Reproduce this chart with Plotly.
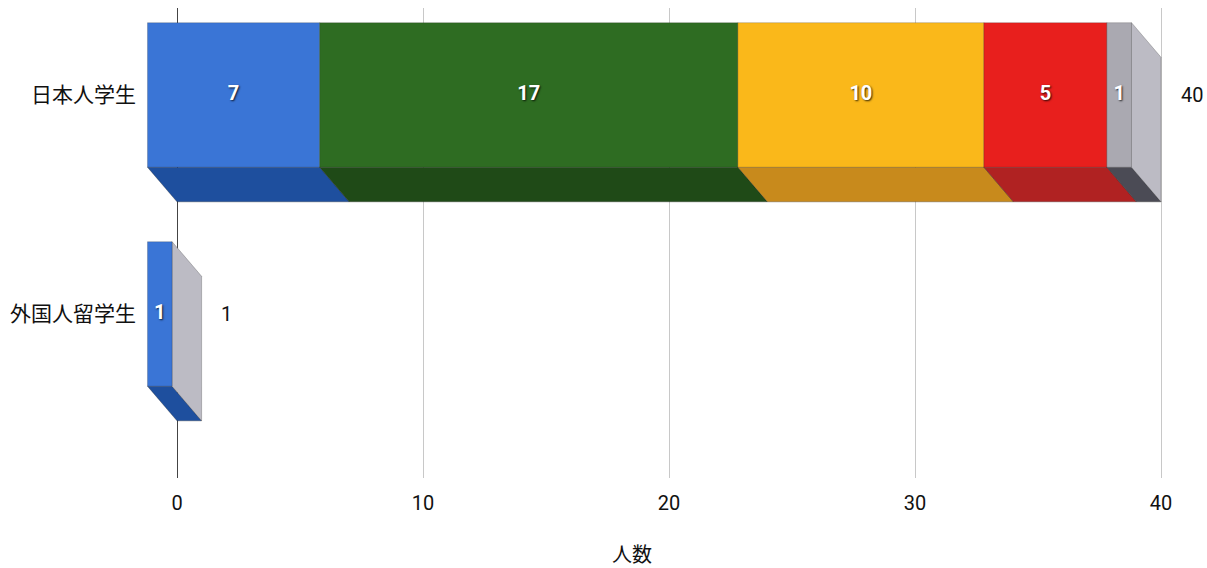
import plotly.graph_objects as go

# ---- data ----
categories = ["日本人学生", "外国人留学生"]
series_names = ["s1", "s2", "s3", "s4", "s5"]
values_japanese = [7, 17, 10, 5, 1]
values_foreign = [1, 0, 0, 0, 0]
totals = [40, 1]
x_ticks = [0, 10, 20, 30, 40]

front_colors = ["#3a75d6", "#2e6c22", "#fab81a", "#e81f1d", "#aaa9b1"]
bottom_colors = ["#1e4f9e", "#1f4a17", "#c88a1c", "#b02222", "#4b4b55"]
side_color = "#bcbbc4"

NUM_FONT = "Roboto, Noto Sans"

# 3D styling (in axis units)
DX = 1.2     # depth offset along x
DY = 0.158   # depth offset along y
H = 0.33     # half bar height

fig = go.Figure()

rows = [values_japanese, values_foreign]
for ci, vals in enumerate(rows):
    c = ci
    start = 0
    segs = []
    for si, v in enumerate(vals):
        if v <= 0:
            continue
        segs.append((si, start, start + v))
        start += v
    # bottom faces
    for si, s, e in segs:
        fig.add_trace(go.Scatter(
            x=[s - DX, e - DX, e, s, s - DX],
            y=[c + H, c + H, c + H + DY, c + H + DY, c + H],
            fill="toself", fillcolor=bottom_colors[si], mode="lines",
            line=dict(width=0.6, color="rgba(20,20,20,0.5)"),
            hoverinfo="skip", showlegend=False))
    # right side face of last segment
    si, s, e = segs[-1]
    fig.add_trace(go.Scatter(
        x=[e - DX, e, e, e - DX, e - DX],
        y=[c - H, c - H + DY, c + H + DY, c + H, c - H],
        fill="toself", fillcolor=side_color, mode="lines",
        line=dict(width=0.6, color="rgba(60,60,60,0.5)"),
        hoverinfo="skip", showlegend=False))
    # front faces
    for si, s, e in segs:
        fig.add_trace(go.Scatter(
            x=[s - DX, e - DX, e - DX, s - DX, s - DX],
            y=[c - H, c - H, c + H, c + H, c - H],
            fill="toself", fillcolor=front_colors[si], mode="lines",
            line=dict(width=0.6, color="rgba(30,30,30,0.35)"),
            hoverinfo="skip", showlegend=False))
    # value labels
    fig.add_trace(go.Scatter(
        x=[(s + e) / 2 - DX for _, s, e in segs],
        y=[c for _ in segs],
        text=[str(rows[ci][si]) for si, _, _ in segs],
        mode="text",
        textfont=dict(family=NUM_FONT, size=20, color="white",
                      weight="bold", shadow="1px 1px 2px rgba(0,0,0,0.8)"),
        hoverinfo="skip", showlegend=False))

# totals
for ci, t in enumerate(totals):
    fig.add_annotation(x=t, y=ci, text=str(t), showarrow=False,
                       xanchor="center", xshift=31 if t >= 10 else 25,
                       font=dict(family=NUM_FONT, size=20, color="#111"))

pl, pr, pt, pb = 137, 1207 - 32, 8, 568 - 90
px_per_unit = (1161 - 177) / 40.0
x_range = [-(177 - pl) / px_per_unit, 40 + (pr - 1161) / px_per_unit]

fig.update_layout(
    width=1207, height=568,
    margin=dict(l=pl, r=1207 - pr, t=pt, b=568 - pb),
    paper_bgcolor="white", plot_bgcolor="white",
    showlegend=False,
    xaxis=dict(range=x_range, tickvals=x_ticks, ticktext=[str(v) for v in x_ticks],
               showgrid=True, gridcolor="#c8c8c8", gridwidth=1.2,
               zeroline=True, zerolinecolor="#444", zerolinewidth=1.2,
               showline=False, ticks="", ticklabelstandoff=11, layer="below traces",
               tickfont=dict(family=NUM_FONT, size=20, color="#111")),
    yaxis=dict(range=[1.749, -0.397], tickvals=[0, 1], ticktext=categories,
               showgrid=False, zeroline=False, showline=False, ticks="",
               layer="below traces",
               tickfont=dict(family="Noto Sans CJK JP", size=21, color="#111")),
)

# axis title as annotation at reference pixel position
fig.add_annotation(x=(632 - pl) / (pr - pl), y=-(553 - pb) / (pb - pt),
                   xref="paper", yref="paper", text="人数", showarrow=False,
                   xanchor="center", yanchor="middle",
                   font=dict(family="Noto Sans CJK JP", size=20, color="#111"))

fig.write_html("out.html")
